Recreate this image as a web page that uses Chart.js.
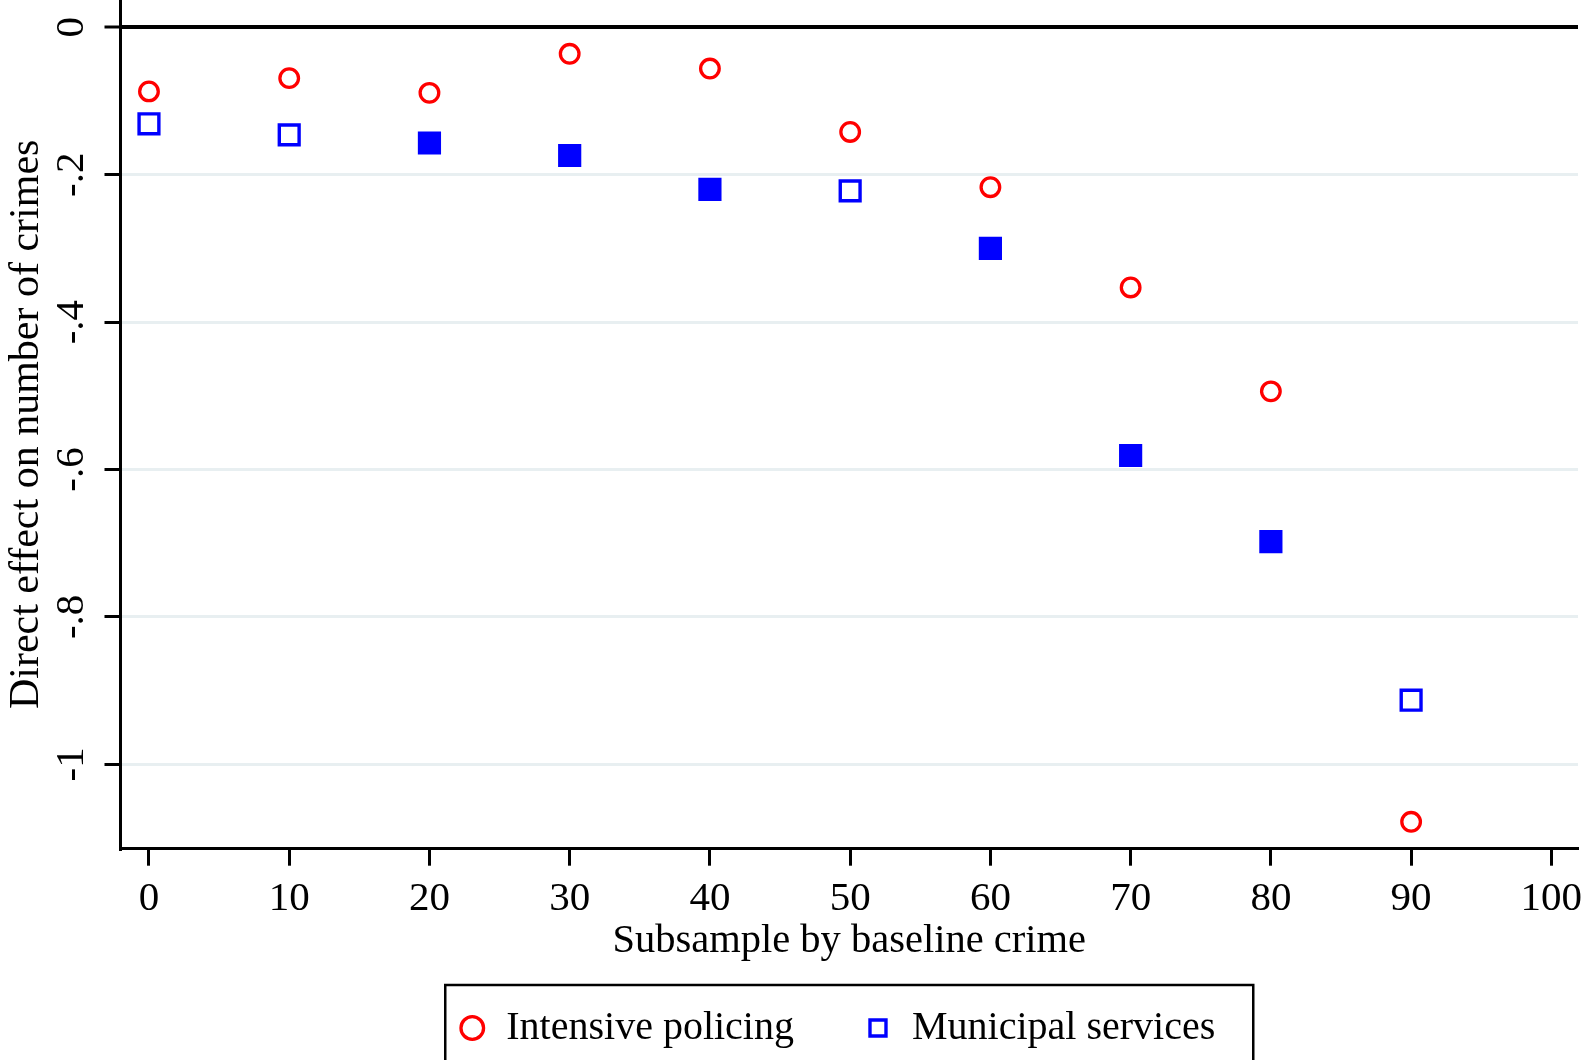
<!DOCTYPE html>
<html>
<head>
<meta charset="utf-8">
<title>Direct effect on number of crimes</title>
<script src="https://cdn.jsdelivr.net/npm/chart.js@4.4.1/dist/chart.umd.min.js"></script>
<style>
  html, body { margin: 0; padding: 0; background: #fff; }
  canvas { display: block; }
</style>
</head>
<body>
<canvas id="chart" width="1588" height="1060" role="img" aria-label="Direct effect on number of crimes by subsample of baseline crime"></canvas>
<script>
// subsample cut-offs (percentile of baseline crime)
const subsample = [0, 10, 20, 30, 40, 50, 60, 70, 80, 90];
// point estimates
const policingEffect = [-0.087, -0.069, -0.089, -0.036, -0.056, -0.142, -0.217, -0.353, -0.494, -1.078];
const municipalEffect = [-0.131, -0.146, -0.157, -0.174, -0.220, -0.222, -0.300, -0.581, -0.698, -0.913];
// filled square = significant, hollow = not
const municipalSignificant = [false, false, true, true, true, false, true, true, true, false];

const xTicks = [0, 10, 20, 30, 40, 50, 60, 70, 80, 90, 100];
const yTicks = [0, -0.2, -0.4, -0.6, -0.8, -1];
const yTickLabels = ['0', '-.2', '-.4', '-.6', '-.8', '-1'];

const RED = '#ff0000';
const BLUE = '#0000ff';
const GRID = '#e8eff1';

Chart.defaults.font.family = '"Liberation Serif", "Times New Roman", serif';
Chart.defaults.color = '#000';

// frame round the legend, like the Stata one
const legendFrame = {
  id: 'legendFrame',
  afterLayout(chart) {
    // nudge legend so its items sit where the original ones do
    chart.legend.left = chart.chartArea.left - 25;
  },
  afterDraw(chart) {
    const ctx = chart.ctx;
    const ca = chart.chartArea;
    const cx = (ca.left + ca.right) / 2;
    ctx.save();
    ctx.lineWidth = 2.5;
    ctx.strokeStyle = '#000';
    ctx.strokeRect(cx - 404, chart.legend.top + 47, 808, 200);
    ctx.restore();
  }
};

new Chart(document.getElementById('chart'), {
  type: 'scatter',
  data: {
    datasets: [
      {
        label: 'Intensive policing',
        data: subsample.map((x, i) => ({ x: x, y: policingEffect[i] })),
        pointStyle: 'circle',
        pointRadius: 9.3,
        pointBorderWidth: 3.3,
        pointBorderColor: RED,
        pointBackgroundColor: '#fff'
      },
      {
        label: 'Municipal services',
        data: subsample.map((x, i) => ({ x: x, y: municipalEffect[i] })),
        pointStyle: 'rect',
        pointRadius: 14,
        pointBorderWidth: 3.4,
        pointBorderColor: BLUE,
        pointBackgroundColor: municipalSignificant.map(s => s ? BLUE : '#fff')
      }
    ]
  },
  options: {
    responsive: false,
    animation: false,
    layout: { autoPadding: false, padding: { top: 0, right: 10, bottom: 2, left: 0 } },
    plugins: {
      tooltip: { enabled: false },
      legend: {
        position: 'bottom',
        fullSize: false,
        labels: {
          usePointStyle: true,
          boxWidth: 28,
          boxHeight: 16,
          padding: 70,
          font: { size: 40 },
          color: '#000'
        }
      }
    },
    scales: {
      x: {
        type: 'linear',
        min: -2.03,
        max: 101.9,
        afterBuildTicks: (scale) => { scale.ticks = xTicks.map(v => ({ value: v })); },
        afterFit: (scale) => {
          scale.height = 89.3;
          scale.paddingLeft = 0;
          scale.paddingRight = 0;
        },
        border: { color: '#000', width: 3 },
        grid: {
          drawOnChartArea: false,
          drawTicks: true,
          tickLength: 17,
          tickColor: '#000',
          tickWidth: 3
        },
        ticks: {
          padding: 9,
          maxRotation: 0,
          font: { size: 41 },
          color: '#000'
        },
        title: {
          display: true,
          text: 'Subsample by baseline crime',
          font: { size: 40.5, lineHeight: 1 },
          color: '#000',
          padding: { top: 0, bottom: -24 }
        }
      },
      y: {
        type: 'linear',
        min: -1.1145,
        max: 0.037,
        afterBuildTicks: (scale) => { scale.ticks = yTicks.map(v => ({ value: v })); },
        afterFit: (scale) => {
          scale.width = 120.5;
          scale.paddingTop = 0;
          scale.paddingBottom = 0;
        },
        border: { color: '#000', width: 3 },
        grid: {
          color: (ctx) => (ctx.tick && ctx.tick.value === 0) ? '#000' : GRID,
          lineWidth: (ctx) => (ctx.tick && ctx.tick.value === 0) ? 4 : 3,
          tickLength: 16,
          tickColor: '#000',
          tickWidth: 3
        },
        ticks: {
          minRotation: 90,
          maxRotation: 90,
          crossAlign: 'center',
          padding: 10,
          font: { size: 41 },
          color: '#000',
          callback: (v, i) => yTickLabels[i]
        },
        title: {
          display: true,
          text: 'Direct effect on number of crimes',
          font: { size: 42 },
          color: '#000',
          padding: { top: 2, bottom: 0 }
        }
      }
    }
  },
  plugins: [legendFrame]
});
</script>
</body>
</html>
